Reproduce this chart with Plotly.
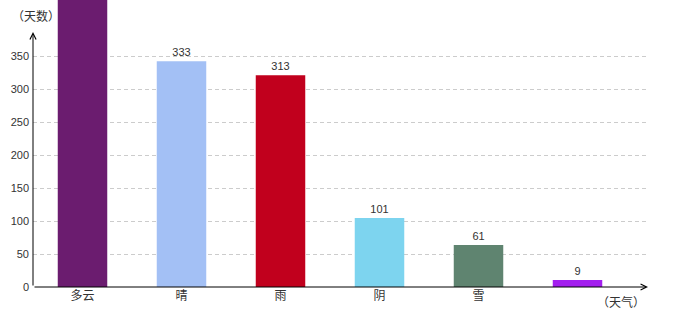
import plotly.graph_objects as go

categories = ["多云", "晴", "雨", "阴", "雪", ""]
bar_heights = [480, 342, 321, 104.5, 63.6, 10.6]
label_values = ["", "333", "313", "101", "61", "9"]
bar_colors = ["#6B1C6F", "#A3C0F5", "#C1001D", "#7DD4EF", "#5F8470", "#A31FEF"]
y_ticks = [0, 50, 100, 150, 200, 250, 300, 350]
x_title = "（天气）"
y_title = "（天数）"

x_pos = list(range(len(categories)))

fig = go.Figure()
fig.add_trace(go.Bar(
    x=x_pos, y=bar_heights, width=0.5,
    marker=dict(color=bar_colors, line=dict(width=0)),
    text=label_values, textposition="outside", cliponaxis=False,
    textfont=dict(family="Liberation Sans, Arial", size=11, color="#333333"),
    hoverinfo="skip",
))

ymax = 287 / 0.66
xmax = len(categories) - 0.5 + 21 / 99

fig.update_layout(
    width=680, height=320,
    margin=dict(l=33, r=32, t=0, b=33),
    paper_bgcolor="white", plot_bgcolor="white",
    showlegend=False,
    bargap=0.5,
    xaxis=dict(
        range=[-0.5, xmax], tickmode="array", tickvals=x_pos, ticktext=categories,
        showgrid=False, zeroline=False, showline=False, ticks="",
        tickfont=dict(family="Noto Sans CJK SC", size=12, color="#333333"),
        fixedrange=True,
    ),
    yaxis=dict(
        range=[0, ymax], tickmode="array", tickvals=y_ticks,
        showgrid=True, gridcolor="#CCCCCC", griddash="4px,3px", gridwidth=1,
        zeroline=False, showline=False, ticks="",
        tickfont=dict(family="Liberation Sans, Arial", size=11, color="#333333"),
        ticklabelstandoff=3,
        fixedrange=True,
    ),
    font=dict(family="Noto Sans CJK SC"),
)

# axis lines with arrows
fig.add_annotation(x=-0.5, y=(287 - 32) / 0.66, ax=-0.5, ay=0,
                   xref="x", yref="y", axref="x", ayref="y",
                   text="", showarrow=True, arrowhead=5, arrowsize=1.2,
                   arrowwidth=1, arrowcolor="#000000")
fig.add_annotation(x=xmax, y=0, ax=-0.5, ay=0,
                   xref="x", yref="y", axref="x", ayref="y",
                   text="", showarrow=True, arrowhead=5, arrowsize=1.2,
                   arrowwidth=1, arrowcolor="#000000")

fig.add_annotation(x=xmax, y=0, xref="x", yref="y", xanchor="right", yanchor="top",
                   xshift=-1, yshift=-4, text=x_title, showarrow=False,
                   font=dict(family="Noto Sans CJK SC", size=12, color="#333333"))
fig.add_annotation(x=0, y=1, xref="paper", yref="paper", xanchor="right", yanchor="top",
                   xshift=29, yshift=-5, text=y_title, showarrow=False,
                   font=dict(family="Noto Sans CJK SC", size=12, color="#333333"))

fig.write_html("out.html")
